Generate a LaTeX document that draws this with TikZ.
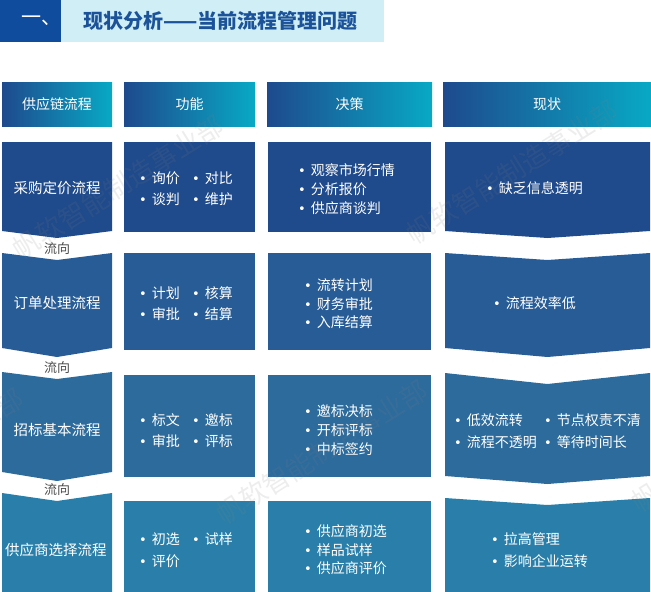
\documentclass[tikz,border=0pt]{standalone}
\usepackage{fontspec}
\setmainfont{Noto Sans CJK SC}
\newfontfamily\dejavu{DejaVu Sans}
\definecolor{rowA}{HTML}{1F4A8B}
\definecolor{rowB}{HTML}{275C96}
\definecolor{rowC}{HTML}{2C6B9C}
\definecolor{rowD}{HTML}{297FA9}
\definecolor{hdrL}{HTML}{1E4A8D}
\definecolor{hdrR}{HTML}{08A9C5}
\definecolor{titleDark}{HTML}{0F4C9E}
\definecolor{titleLight}{HTML}{CFEEF5}
\definecolor{titleText}{HTML}{1B5299}
\definecolor{flowgray}{HTML}{4A4A4A}
\tikzset{
  boxnode/.style={draw=none, inner sep=0pt, outer sep=0pt, rectangle},
  hdr/.style={boxnode, left color=hdrL, right color=hdrR, text=white,
    font=\fontsize{14}{16}\selectfont},
  cell/.style={text=white, font=\fontsize{14}{16}\selectfont, anchor=west, inner sep=0pt},
  lbl/.style={text=white, font=\fontsize{14.5}{16}\selectfont, inner sep=0pt},
  flowlbl/.style={text=flowgray, font=\fontsize{13}{15}\selectfont, inner sep=0pt},
  wm/.style={text=gray, opacity=0.14, font=\fontsize{27}{30}\selectfont, rotate=32, inner sep=0pt}
}
\newcommand{\bl}{{\dejavu\fontsize{13}{15}\selectfont •}\hspace{5pt}}
\begin{document}
\begin{tikzpicture}[x=1pt,y=-1pt]
\useasboundingbox (0,0) rectangle (651,592);
% title
\node[boxnode, fill=titleDark, minimum width=61pt, minimum height=42pt, anchor=north west] (tnum) at (0,0) {};
\node[text=white, font=\fontsize{20}{22}\selectfont, inner sep=0pt] (tnumtxt) at (tnum.center) [xshift=11pt] {一、};
\node[boxnode, fill=titleLight, minimum width=323pt, minimum height=42pt, anchor=north west] (tbar) at (61,0) {};
\node[text=titleText, font=\fontsize{20}{22}\selectfont\bfseries, anchor=west, inner sep=0pt] (ttxt) at (83,21) {现状分析——当前流程管理问题};
% headers
\node[hdr, minimum width=110pt, minimum height=44pt] (h1) at (57,104) {供应链流程};
\node[hdr, minimum width=131pt, minimum height=44pt] (h2) at (189.5,104) {功能};
\node[hdr, minimum width=165pt, minimum height=44pt] (h3) at (349.5,104) {决策};
\node[hdr, minimum width=208pt, minimum height=44pt] (h4) at (547,104) {现状};
% column 1 chevrons
\fill[rowA] (2,142) -- (112,142) -- (112,231) -- (57,238) -- (2,231) -- cycle;
\fill[rowB] (2,253) -- (57,260) -- (112,253) -- (112,348) -- (57,357) -- (2,348) -- cycle;
\fill[rowC] (2,372) -- (57,379) -- (112,372) -- (112,472) -- (57,481) -- (2,472) -- cycle;
\fill[rowD] (2,493) -- (57,501) -- (112,493) -- (112,592) -- (2,592) -- cycle;
\node[lbl] (p1) at (57,188) {采购定价流程};
\node[lbl] (p2) at (57,303) {订单处理流程};
\node[lbl] (p3) at (57,430) {招标基本流程};
\node[lbl] (p4) at (56,550) {供应商选择流程};
\node[flowlbl] (f1) at (57,249) {流向};
\node[flowlbl] (f2) at (57,368) {流向};
\node[flowlbl] (f3) at (57,490) {流向};
% column 2 boxes
\node[boxnode, fill=rowA, minimum width=131pt, minimum height=90pt] (b21) at (189.5,187) {};
\node[boxnode, fill=rowB, minimum width=131pt, minimum height=97pt] (b22) at (189.5,301.5) {};
\node[boxnode, fill=rowC, minimum width=131pt, minimum height=102pt] (b23) at (189.5,426) {};
\node[boxnode, fill=rowD, minimum width=131pt, minimum height=91pt] (b24) at (189.5,546.5) {};
% column 3 boxes
\node[boxnode, fill=rowA, minimum width=163pt, minimum height=90pt] (b31) at (349.5,187) {};
\node[boxnode, fill=rowB, minimum width=163pt, minimum height=97pt] (b32) at (349.5,301.5) {};
\node[boxnode, fill=rowC, minimum width=163pt, minimum height=102pt] (b33) at (349.5,426) {};
\node[boxnode, fill=rowD, minimum width=163pt, minimum height=91pt] (b34) at (349.5,546.5) {};
% column 4 chevrons
\fill[rowA] (445,142) -- (650,142) -- (650,231) -- (547.5,238) -- (445,231) -- cycle;
\fill[rowB] (445,253) -- (547.5,260) -- (650,253) -- (650,348) -- (547.5,357) -- (445,348) -- cycle;
\fill[rowC] (445,373) -- (547.5,384) -- (650,373) -- (650,476) -- (547.5,484) -- (445,476) -- cycle;
\fill[rowD] (445,498) -- (547.5,505) -- (650,498) -- (650,592) -- (445,592) -- cycle;
% column 2 texts
\node[cell] (c211) at (139,178) {\bl 询价};
\node[cell] (c212) at (192,178) {\bl 对比};
\node[cell] (c213) at (139,199) {\bl 谈判};
\node[cell] (c214) at (192,199) {\bl 维护};
\node[cell] (c221) at (139,293) {\bl 计划};
\node[cell] (c222) at (192,293) {\bl 核算};
\node[cell] (c223) at (139,314) {\bl 审批};
\node[cell] (c224) at (192,314) {\bl 结算};
\node[cell] (c231) at (139,420) {\bl 标文};
\node[cell] (c232) at (192,420) {\bl 邀标};
\node[cell] (c233) at (139,441) {\bl 审批};
\node[cell] (c234) at (192,441) {\bl 评标};
\node[cell] (c241) at (139,539) {\bl 初选};
\node[cell] (c242) at (192,539) {\bl 试样};
\node[cell] (c243) at (139,561) {\bl 评价};
% column 3 texts
\node[cell] (c311) at (298,170) {\bl 观察市场行情};
\node[cell] (c312) at (298,189) {\bl 分析报价};
\node[cell] (c313) at (298,208) {\bl 供应商谈判};
\node[cell] (c321) at (304,285) {\bl 流转计划};
\node[cell] (c322) at (304,304) {\bl 财务审批};
\node[cell] (c323) at (304,322) {\bl 入库结算};
\node[cell] (c331) at (304,411) {\bl 邀标决标};
\node[cell] (c332) at (304,430) {\bl 开标评标};
\node[cell] (c333) at (304,449) {\bl 中标签约};
\node[cell] (c341) at (304,531) {\bl 供应商初选};
\node[cell] (c342) at (304,550) {\bl 样品试样};
\node[cell] (c343) at (304,568) {\bl 供应商评价};
% column 4 texts
\node[cell] (c411) at (486,188) {\bl 缺乏信息透明};
\node[cell] (c421) at (493,303) {\bl 流程效率低};
\node[cell] (c431) at (454,420) {\bl 低效流转};
\node[cell] (c432) at (544,420) {\bl 节点权责不清};
\node[cell] (c433) at (454,442) {\bl 流程不透明};
\node[cell] (c434) at (544,442) {\bl 等待时间长};
\node[cell] (c441) at (491,539) {\bl 拉高管理};
\node[cell] (c442) at (491,561) {\bl 影响企业运转};
% watermarks
\begin{scope}
\clip (0,0) rectangle (651,592);
\node[wm] (w1) at (118,187) {帆软智能制造事业部};
\node[wm] (w2) at (512,172) {帆软智能制造事业部};
\node[wm] (w3) at (-82,460) {帆软智能制造事业部};
\node[wm] (w4) at (322,452) {帆软智能制造事业部};
\node[wm] (w5) at (737,440) {帆软智能制造事业部};
\end{scope}
\end{tikzpicture}
\end{document}
